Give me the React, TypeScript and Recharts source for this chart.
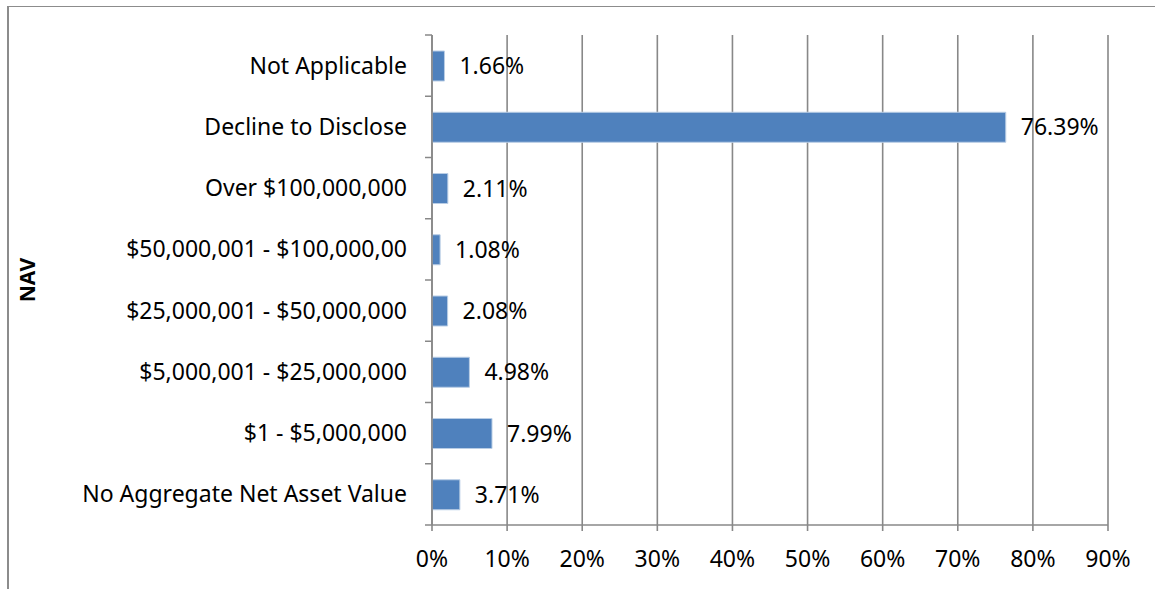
import React from 'react';
import { BarChart, Bar, XAxis, YAxis, CartesianGrid, LabelList } from 'recharts';

const categories = [
  'Not Applicable',
  'Decline to Disclose',
  'Over $100,000,000',
  '$50,000,001 - $100,000,00',
  '$25,000,001 - $50,000,000',
  '$5,000,001 - $25,000,000',
  '$1 - $5,000,000',
  'No Aggregate Net Asset Value',
];
const shares = [1.66, 76.39, 2.11, 1.08, 2.08, 4.98, 7.99, 3.71];
const xTicks = [0, 10, 20, 30, 40, 50, 60, 70, 80, 90];

const data = categories.map((name, i) => ({ name, share: shares[i] }));

const FONT = '"Noto Sans", sans-serif';
const FS = 23;
const AXIS = '#888888';
const TOP = 35;
const BOTTOM = 64;
const HEIGHT = 589;
const AXIS_X = 432;
const BAND = (HEIGHT - TOP - BOTTOM) / categories.length;

const CategoryTick = (props: any) => {
  const { y, payload, index } = props;
  return (
    <g>
      <line x1={AXIS_X - 7} x2={AXIS_X} y1={y - BAND / 2} y2={y - BAND / 2} stroke={AXIS} strokeWidth={1.5} />
      {index === categories.length - 1 && (
        <line x1={AXIS_X - 7} x2={AXIS_X} y1={y + BAND / 2} y2={y + BAND / 2} stroke={AXIS} strokeWidth={1.5} />
      )}
      <text x={AXIS_X - 25} y={y} dy={8} textAnchor="end" fill="#000" fontSize={FS} fontFamily={FONT}>
        {payload.value}
      </text>
    </g>
  );
};

const App: React.FC = () => {
  return (
    <div style={{ position: 'absolute', left: 0, top: 0, width: 1155, height: 589, background: '#fff' }}>
      <div
        style={{
          position: 'absolute',
          left: 7,
          top: 6,
          right: 0,
          bottom: 0,
          borderTop: '1px solid #8c8c8c',
          borderLeft: '2px solid #8c8c8c',
        }}
      />
      <BarChart
        width={1155}
        height={HEIGHT}
        data={data}
        layout="vertical"
        margin={{ top: TOP, right: 47, bottom: 0, left: 0 }}
        barSize={30}
      >
        <CartesianGrid horizontal={false} stroke={AXIS} strokeWidth={1.6} />
        <XAxis
          type="number"
          domain={[0, 90]}
          ticks={xTicks}
          interval={0}
          height={BOTTOM}
          tickFormatter={(v: number) => `${v}%`}
          stroke={AXIS}
          strokeWidth={1.6}
          tickSize={6}
          tickMargin={20}
          tick={{ fill: '#000', fontSize: FS, fontFamily: FONT }}
        />
        <YAxis
          type="category"
          dataKey="name"
          width={AXIS_X}
          interval={0}
          stroke={AXIS}
          strokeWidth={1.6}
          tickLine={false}
          tick={<CategoryTick />}
          label={{
            value: 'NAV',
            angle: -90,
            position: 'insideLeft',
            offset: 28,
            style: { fill: '#000', fontSize: 21, fontWeight: 'bold', fontFamily: FONT, textAnchor: 'middle' },
          }}
        />
        <Bar dataKey="share" fill="#4f81bd" stroke="#b9cde5" strokeWidth={1} isAnimationActive={false}>
          <LabelList
            dataKey="share"
            position="right"
            offset={15}
            formatter={(v: number) => `${v.toFixed(2)}%`}
            style={{ fill: '#000', fontSize: FS, fontFamily: FONT }}
          />
        </Bar>
      </BarChart>
    </div>
  );
};

export default App;
